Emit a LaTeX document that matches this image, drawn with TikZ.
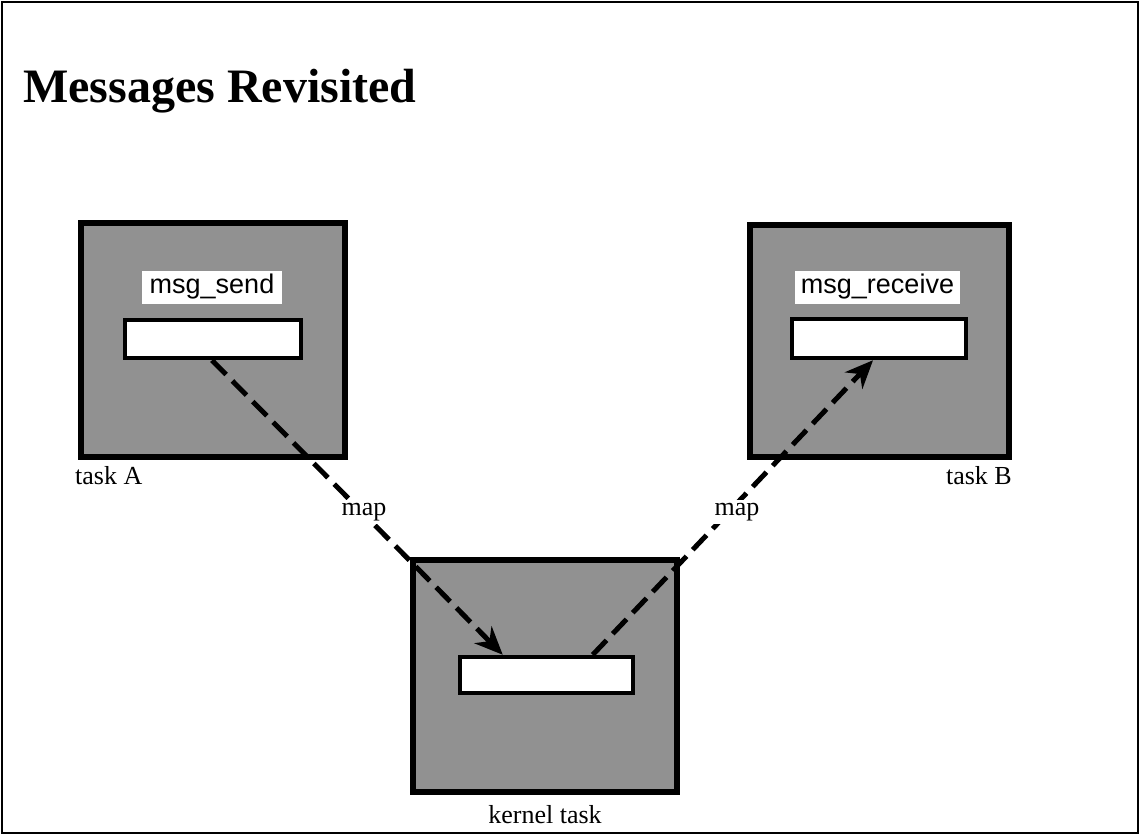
\documentclass[tikz,border=0pt]{standalone}
\usepackage{fontspec}
\setmainfont{Liberation Serif}
\newfontfamily\helv{Liberation Sans}
\usetikzlibrary{arrows.meta}
\definecolor{shade}{gray}{0.57}
\tikzset{
  task/.style={draw=black, line width=6pt, fill=shade, inner sep=0pt, rectangle},
  buf/.style={draw=black, line width=4.5pt, fill=white, inner sep=0pt, rectangle},
  fn/.style={fill=white, inner sep=0pt, font=\helv\fontsize{27}{30}\selectfont},
  lbl/.style={inner sep=0pt, font=\fontsize{26}{30}\selectfont},
  maplbl/.style={fill=white, inner sep=3pt, font=\fontsize{26}{30}\selectfont},
  mapline/.style={line width=5pt, dash pattern=on 20pt off 9pt, -{Stealth[length=28pt,width=24pt,inset=9pt]}}
}
\begin{document}
\begin{tikzpicture}[x=1pt,y=-1pt]
\useasboundingbox (0,0) rectangle (1141,836);
\draw[line width=2pt] (2,2) rectangle (1138,833);
\node[anchor=base west, inner sep=0pt, font=\bfseries\fontsize{48}{56}\selectfont] (title) at (23,102) {Messages Revisited};
% task boxes
\node[task, minimum width=264pt, minimum height=234pt] (boxA) at (213,340) {};
\node[task, minimum width=259pt, minimum height=232pt] (boxB) at (879.5,341) {};
\node[task, minimum width=264pt, minimum height=232pt] (boxK) at (545,676) {};
% function labels
\node[fn, minimum width=140pt, minimum height=33pt] (sendlbl) at (212,287) {msg\_send};
\node[fn, minimum width=165pt, minimum height=33pt] (recvlbl) at (877.5,287) {msg\_receive};
% buffers
\node[buf, minimum width=176pt, minimum height=38pt] (rectA) at (213,339) {};
\node[buf, minimum width=174pt, minimum height=39pt] (rectB) at (879,338.5) {};
\node[buf, minimum width=173pt, minimum height=36pt] (rectK) at (546.5,675) {};
% task labels
\node[lbl, anchor=north west] (labA) at (75,466) {task A};
\node[lbl, anchor=north east] (labB) at (1012,466) {task B};
\node[lbl, anchor=north] (labK) at (545,805) {kernel task};
% mappings
\draw[mapline] ([xshift=-1pt]rectA.south) -- ([xshift=45pt]rectK.north west);
\draw[mapline] ([xshift=135pt]rectK.north west) -- ([xshift=-6pt]rectB.south);
\node[maplbl] (map1) at (364,512) {map};
\node[maplbl] (map2) at (737,512) {map};
\end{tikzpicture}
\end{document}
